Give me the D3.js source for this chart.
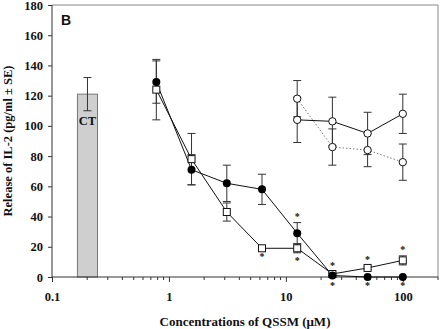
<!DOCTYPE html>
<html>
<head>
<meta charset="utf-8">
<script src="https://cdn.jsdelivr.net/npm/d3@7"></script>
<style>
  body { margin: 0; background: #fff; }
  svg text { font-family: "Liberation Serif", "Times New Roman", serif; font-weight: bold; fill: #111; }
  svg text.sans { font-family: "Liberation Sans", Arial, sans-serif; }
</style>
</head>
<body>
<div id="chart"></div>
<script>
// values
const conc = [0.78, 1.56, 3.125, 6.25, 12.5, 25, 50, 100];
const filledMean = [129, 71, 62, 58, 29, 1, 0, 0];
const filledSE = [14, 10, 12, 10, 7, 1, 0, 0];
const filledStar = [null, null, null, null, "above", "below", "below", "below"];
const squareMean = [124, 78, 43, 19, 19, 2, 6, 11];
const squareSE = [20, 17, 6, 0, 3, 1, 1, 3];
const squareStar = [null, null, null, "below", "below", "above", "above", "above"];

const openConc = [12.5, 25, 50, 100];
const openSolidMean = [104, 103, 95, 108];
const openSolidSE = [15, 16, 14, 13];
const openDottedMean = [118, 86, 84, 76];
const openDottedSE = [12, 12, 11, 12];

const ctMean = 121, ctSE = 11;
const ctRange = [0.165, 0.245];

const xTicks = [0.1, 1, 10, 100];
const yTicks = [0, 20, 40, 60, 80, 100, 120, 140, 160, 180];

let margin = {top: 5, right: 2, bottom: 52, left: 52},
    W = 440, H = 329;

let svg = d3.select("#chart").append("svg")
    .attr("width", W).attr("height", H);

let x = d3.scaleLog().domain([0.1, 200]).range([margin.left, W - margin.right]);
let y = d3.scaleLinear().domain([0, 180]).range([H - margin.bottom, margin.top]);

// frame top / right
svg.append("path")
    .attr("d", `M${x(0.1)},${y(180)}H${x(200)}V${y(0)}`)
    .attr("fill", "none").attr("stroke", "#888").attr("stroke-width", 1);

// CT bar
svg.append("rect")
    .attr("x", x(ctRange[0])).attr("width", x(ctRange[1]) - x(ctRange[0]))
    .attr("y", y(ctMean)).attr("height", y(0) - y(ctMean))
    .attr("fill", "#cfcfcf").attr("stroke", "#777").attr("stroke-width", 1);
let ctx = Math.sqrt(ctRange[0] * ctRange[1]);
svg.append("path")
    .attr("d", `M${x(ctx)},${y(ctMean + ctSE)}V${y(ctMean - ctSE)}M${x(ctx)-4},${y(ctMean + ctSE)}h8M${x(ctx)-4},${y(ctMean - ctSE)}h8`)
    .attr("stroke", "#333").attr("fill", "none");
svg.append("text")
    .attr("x", x(ctx)).attr("y", y(ctMean - 18) + 4)
    .attr("text-anchor", "middle").style("font-size", "12.5px").text("CT");

// axes
let xAxis = svg.append("g")
    .attr("transform", `translate(0,${y(0)})`)
    .call(d3.axisBottom(x).tickValues(xTicks).tickFormat(d3.format("")).tickSize(5).tickPadding(10));
let minor = [];
for (let e = -1; e <= 2; e++) for (let k = 2; k <= 9; k++) { let v = k * Math.pow(10, e); if (v <= 200) minor.push(v); }
xAxis.selectAll(".minor").data(minor).enter().append("line")
    .attr("class", "minor")
    .attr("x1", d => x(d)).attr("x2", d => x(d))
    .attr("y1", 0).attr("y2", 3).attr("stroke", "#333");

let yAxis = svg.append("g")
    .attr("transform", `translate(${margin.left},0)`)
    .call(d3.axisLeft(y).tickValues(yTicks).tickSize(4).tickPadding(5));

svg.selectAll(".domain").attr("stroke", "#333");
svg.selectAll(".tick line").attr("stroke", "#333");
svg.selectAll(".tick text").style("font-size", "12.5px");
xAxis.select(".domain").attr("d", `M${x(0.1)},0H${x(200)}`);
yAxis.select(".domain").attr("d", `M0,${y(0)}V${y(180)}`);

// axis titles
svg.append("text")
    .attr("transform", `translate(12,${(y(0) + y(180)) / 2}) rotate(-90)`)
    .attr("text-anchor", "middle").style("font-size", "12.5px").text("Release of IL-2 (pg/ml ± SE)");
svg.append("text")
    .attr("x", (x(0.1) + x(200)) / 2).attr("y", 326)
    .attr("text-anchor", "middle").style("font-size", "13px").text("Concentrations of QSSM (μM)");

svg.append("text").attr("class", "sans")
    .attr("x", 61).attr("y", 25)
    .style("font-size", "14px").text("B");

// helpers
function errorBars(xs, means, ses) {
    let g = svg.append("g").attr("stroke", "#333").attr("fill", "none").attr("stroke-width", 1);
    xs.forEach((c, i) => {
        if (!ses[i]) return;
        let cx = x(c), t = y(means[i] + ses[i]), b = y(Math.max(0, means[i] - ses[i]));
        g.append("path").attr("d", `M${cx},${t}V${b}M${cx-4},${t}h8M${cx-4},${b}h8`);
    });
}
function series(xs, means, dash, color) {
    svg.append("path")
        .datum(xs.map((c, i) => [c, means[i]]))
        .attr("fill", "none").attr("stroke", color).attr("stroke-width", 1)
        .attr("stroke-dasharray", dash)
        .attr("d", d3.line().x(d => x(d[0])).y(d => y(d[1])));
}
function stars(xs, means, ses, pos) {
    xs.forEach((c, i) => {
        if (!pos[i]) return;
        let base = pos[i] === "above" ? y(means[i] + ses[i]) - 3 : y(Math.max(0, means[i] - ses[i])) + 11.5;
        svg.append("text")
            .attr("x", x(c)).attr("y", base)
            .attr("text-anchor", "middle").style("font-size", "10px").text("*");
    });
}

errorBars(conc, filledMean, filledSE);
errorBars(conc, squareMean, squareSE);
errorBars(openConc, openSolidMean, openSolidSE);
errorBars(openConc, openDottedMean, openDottedSE);

series(openConc, openDottedMean, "1.5,2", "#777");
series(openConc, openSolidMean, null, "#111");
series(conc, squareMean, null, "#111");
series(conc, filledMean, null, "#111");

// markers
svg.append("g").selectAll("rect").data(conc).enter().append("rect")
    .attr("x", d => x(d) - 3.5).attr("y", (d, i) => y(squareMean[i]) - 3.5)
    .attr("width", 7).attr("height", 7)
    .attr("fill", "#fff").attr("stroke", "#111");
svg.append("g").selectAll("circle").data(conc).enter().append("circle")
    .attr("cx", d => x(d)).attr("cy", (d, i) => y(filledMean[i]))
    .attr("r", 4).attr("fill", "#000");
svg.append("g").selectAll("circle").data(openConc).enter().append("circle")
    .attr("cx", d => x(d)).attr("cy", (d, i) => y(openSolidMean[i]))
    .attr("r", 3.7).attr("fill", "#fff").attr("stroke", "#111");
svg.append("g").selectAll("circle").data(openConc).enter().append("circle")
    .attr("cx", d => x(d)).attr("cy", (d, i) => y(openDottedMean[i]))
    .attr("r", 3.7).attr("fill", "#fff").attr("stroke", "#111");

stars(conc, filledMean, filledSE, filledStar);
stars(conc, squareMean, squareSE, squareStar);
</script>
</body>
</html>
